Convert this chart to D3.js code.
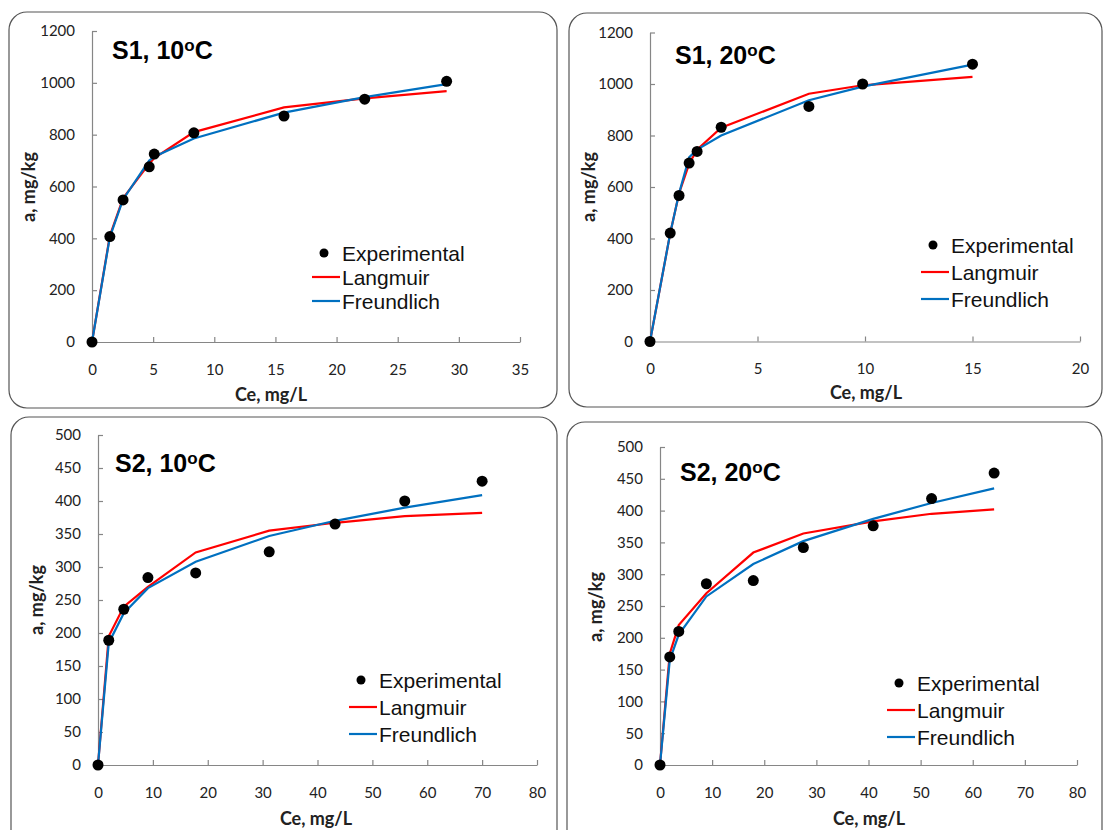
<!DOCTYPE html>
<html><head><meta charset="utf-8">
<script src="https://cdn.jsdelivr.net/npm/d3@7"></script>
<style>body{margin:0;background:#fff} svg{display:block}</style>
</head><body>
<svg id="c" width="1105" height="830"></svg>
<script>
// ---- data ----
const s1t10Ce    = [0, 1.46, 2.54, 4.68, 5.09, 8.33, 15.7, 22.3, 29.0];
const s1t10Exp   = [0, 407, 548, 676, 725, 807, 872, 937, 1006];
const s1t10Lang  = [0, 410, 555, 688, 710, 810, 905, 940, 968];
const s1t10Freu  = [0, 405, 550, 700, 715, 785, 885, 945, 995];

const s1t20Ce    = [0, 0.94, 1.35, 1.82, 2.19, 3.31, 7.39, 9.89, 15.0];
const s1t20Exp   = [0, 421, 567, 693, 738, 832, 913, 1000, 1077];
const s1t20Lang  = [0, 420, 575, 690, 745, 830, 962, 995, 1028];
const s1t20Freu  = [0, 420, 575, 715, 745, 800, 937, 990, 1075];

const s2t10Ce    = [0, 1.96, 4.7, 9.1, 17.8, 31.2, 43.2, 55.9, 70.0];
const s2t10Exp   = [0, 189, 236, 284, 291, 323, 365, 400, 430];
const s2t10Lang  = [0, 195, 240, 270, 322, 355, 367, 377, 382];
const s2t10Freu  = [0, 185, 230, 268, 308, 347, 370, 390, 409];

const s2t20Ce    = [0, 1.87, 3.6, 8.9, 17.9, 27.5, 40.9, 52.1, 64.1];
const s2t20Exp   = [0, 170, 210, 285, 290, 342, 376, 419, 459];
const s2t20Lang  = [0, 175, 220, 270, 334, 364, 383, 395, 402];
const s2t20Freu  = [0, 165, 205, 265, 316, 352, 387, 412, 435];

const xTicksA = [0, 5, 10, 15, 20, 25, 30, 35];
const xTicksB = [0, 5, 10, 15, 20];
const xTicksC = [0, 10, 20, 30, 40, 50, 60, 70, 80];
const yTicksA = [0, 200, 400, 600, 800, 1000, 1200];
const yTicksC = [0, 50, 100, 150, 200, 250, 300, 350, 400, 450, 500];

const seriesNames = ["Experimental", "Langmuir", "Freundlich"];
const titles = [["S1, 10", "C"], ["S1, 20", "C"], ["S2, 10", "C"], ["S2, 20", "C"]];
const xTitle = "Ce, mg/L";
const yTitle = "a, mg/kg";

// ---- layout ----
const panels = [
  {t: titles[0], ce: s1t10Ce, exp: s1t10Exp, lang: s1t10Lang, freu: s1t10Freu, xt: xTicksA, yt: yTicksA,
   frame: [9, 12, 557, 408], plot: [92, 520, 342, 31], title: [112, 59],
   leg: [324, 253, 24], xT: [271, 394], yT: [28, 187]},
  {t: titles[1], ce: s1t20Ce, exp: s1t20Exp, lang: s1t20Lang, freu: s1t20Freu, xt: xTicksB, yt: yTicksA,
   frame: [569, 13, 1102, 407], plot: [650, 1080, 341.5, 32.5], title: [675, 64],
   leg: [933, 245, 27], xT: [866, 392], yT: [588, 187]},
  {t: titles[2], ce: s2t10Ce, exp: s2t10Exp, lang: s2t10Lang, freu: s2t10Freu, xt: xTicksC, yt: yTicksC,
   frame: [11, 417, 557, 860], plot: [98, 537, 765, 435], title: [115, 472],
   leg: [361, 680, 27], xT: [316, 818], yT: [36, 600]},
  {t: titles[3], ce: s2t20Ce, exp: s2t20Exp, lang: s2t20Lang, freu: s2t20Freu, xt: xTicksC, yt: yTicksC,
   frame: [567, 422, 1102, 860], plot: [660, 1077, 765, 447], title: [680, 481],
   leg: [899, 683, 27], xT: [869, 818], yT: [595, 607]}
];

const RED = "#ff0000", BLUE = "#0070c0";
const svg = d3.select("#c");
const tickFont = "Lato, 'Open Sans', sans-serif";
const lblFont = "'Liberation Sans', Arial, sans-serif";

panels.forEach(p => {
  const g = svg.append("g");
  const [fx0, fy0, fx1, fy1] = p.frame;
  g.append("rect").attr("x", fx0).attr("y", fy0).attr("width", fx1 - fx0).attr("height", fy1 - fy0)
    .attr("rx", 18).attr("ry", 18).attr("fill", "#fff").attr("stroke", "#555").attr("stroke-width", 1.2);

  const [px0, px1, py0, py1] = p.plot;
  const x = d3.scaleLinear().domain([p.xt[0], p.xt[p.xt.length - 1]]).range([px0, px1]);
  const y = d3.scaleLinear().domain([p.yt[0], p.yt[p.yt.length - 1]]).range([py0, py1]);

  const xa = g.append("g").attr("transform", `translate(0,${py0})`)
    .call(d3.axisBottom(x).tickValues(p.xt).tickFormat(d3.format("d")).tickSizeInner(-5).tickSizeOuter(0).tickPadding(22));
  const ya = g.append("g").attr("transform", `translate(${px0},0)`)
    .call(d3.axisLeft(y).tickValues(p.yt).tickFormat(d3.format("d")).tickSizeInner(-5).tickSizeOuter(0).tickPadding(17));
  [xa, ya].forEach(a => {
    a.selectAll("path,line").attr("stroke", "#868686").attr("stroke-width", 1.2);
    a.selectAll("text").attr("font-family", tickFont).attr("font-size", 15).attr("fill", "#222");
  });

  const line = d3.line().x(d => x(d[0])).y(d => y(d[1]));
  g.append("path").datum(p.ce.map((c, i) => [c, p.lang[i]])).attr("d", line)
    .attr("fill", "none").attr("stroke", RED).attr("stroke-width", 2.2);
  g.append("path").datum(p.ce.map((c, i) => [c, p.freu[i]])).attr("d", line)
    .attr("fill", "none").attr("stroke", BLUE).attr("stroke-width", 2.2);
  g.selectAll("circle.pt").data(p.ce.map((c, i) => [c, p.exp[i]])).join("circle")
    .attr("class", "pt").attr("cx", d => x(d[0])).attr("cy", d => y(d[1])).attr("r", 5.5).attr("fill", "#000");

  // title
  const tt = g.append("text").attr("x", p.title[0]).attr("y", p.title[1])
    .attr("font-family", lblFont).attr("font-weight", "bold").attr("font-size", 25).attr("fill", "#000");
  tt.append("tspan").text(p.t[0]);
  tt.append("tspan").attr("dy", -8).attr("font-size", 17).text("o");
  tt.append("tspan").attr("dy", 8).text(p.t[1]);

  // axis titles
  g.append("text").attr("x", p.xT[0]).attr("y", p.xT[1]).attr("text-anchor", "middle")
    .attr("dominant-baseline", "central").attr("font-family", tickFont).attr("font-weight", "bold")
    .attr("font-size", 18).attr("fill", "#222").text(xTitle);
  g.append("text").attr("transform", `translate(${p.yT[0]},${p.yT[1]}) rotate(-90)`)
    .attr("text-anchor", "middle").attr("dominant-baseline", "central").attr("font-family", tickFont)
    .attr("font-weight", "bold").attr("font-size", 18).attr("fill", "#222").text(yTitle);

  // legend
  const [lx, ly, ld] = p.leg;
  const lg = g.append("g");
  lg.append("circle").attr("cx", lx).attr("cy", ly).attr("r", 4.5).attr("fill", "#000");
  lg.append("line").attr("x1", lx - 12).attr("x2", lx + 16).attr("y1", ly + ld).attr("y2", ly + ld)
    .attr("stroke", RED).attr("stroke-width", 2.2);
  lg.append("line").attr("x1", lx - 12).attr("x2", lx + 16).attr("y1", ly + 2 * ld).attr("y2", ly + 2 * ld)
    .attr("stroke", BLUE).attr("stroke-width", 2.2);
  seriesNames.forEach((n, i) => {
    lg.append("text").attr("x", lx + 18).attr("y", ly + i * ld).attr("dominant-baseline", "central")
      .attr("font-family", lblFont).attr("font-size", 21).attr("fill", "#111").text(n);
  });
});
</script>
</body></html>
